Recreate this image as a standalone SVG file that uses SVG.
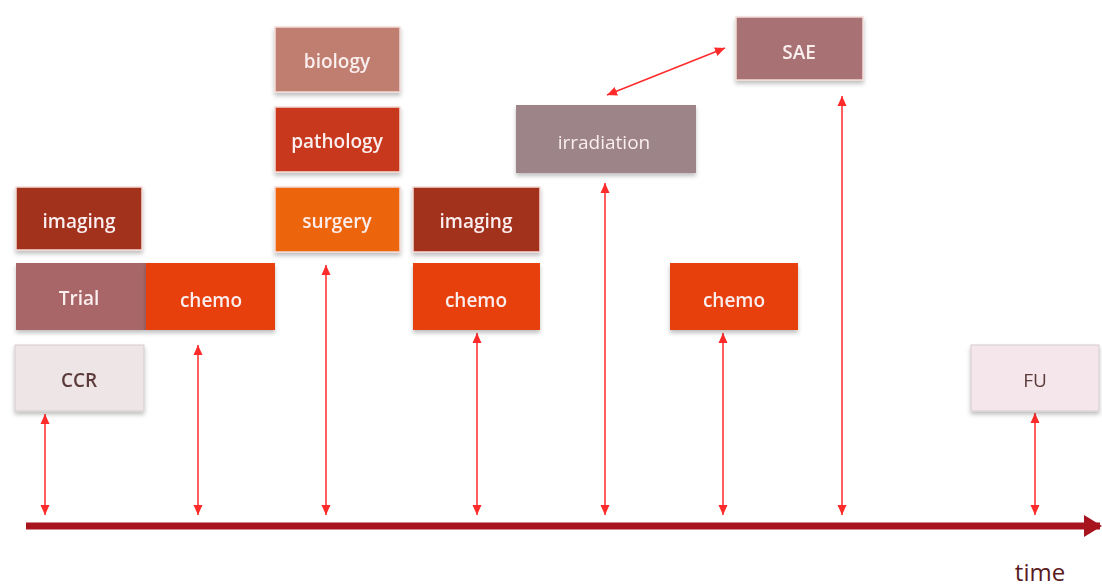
<svg xmlns="http://www.w3.org/2000/svg" width="1102" height="588" viewBox="0 0 1102 588">
<style>
text{font-family:"Open Sans","Liberation Sans",sans-serif;font-size:19px;font-weight:600;text-anchor:middle;dominant-baseline:central;fill:#fbeeee}
.box{stroke:#f3dcd8;stroke-width:1.5}
.dark{fill:#5c3a3a}
.con{stroke:#ff2a2a;stroke-width:1.5;fill:none;marker-start:url(#ah);marker-end:url(#ah)}
</style>
<defs>
<marker id="ah" markerUnits="userSpaceOnUse" markerWidth="10" markerHeight="10" viewBox="0 0 10 10" refX="10" refY="5" orient="auto-start-reverse"><path d="M0,0.5 L10,5 L0,9.5 Z" fill="#ff2a2a"/></marker>
<marker id="big" markerUnits="userSpaceOnUse" markerWidth="18" markerHeight="22" viewBox="0 0 18 22" refX="16" refY="11" orient="auto"><path d="M0,0 L18,11 L0,22 Z" fill="#a8141e"/></marker>
<filter id="sh" x="-10%" y="-10%" width="120%" height="130%"><feDropShadow dx="0" dy="3" stdDeviation="2" flood-color="#000" flood-opacity="0.25"/></filter>
</defs>
<rect width="1102" height="588" fill="#ffffff"/>
<g id="connectors">
<line class="con" x1="45" y1="414" x2="45" y2="515"/>
<line class="con" x1="198" y1="345" x2="198" y2="515"/>
<line class="con" x1="326" y1="265" x2="326" y2="515"/>
<line class="con" x1="477" y1="333" x2="477" y2="515"/>
<line class="con" x1="605" y1="183" x2="605" y2="515"/>
<line class="con" x1="723" y1="333" x2="723" y2="515"/>
<line class="con" x1="842" y1="96" x2="842" y2="515"/>
<line class="con" x1="1035" y1="413" x2="1035" y2="515"/>
<line class="con" x1="607" y1="95" x2="725" y2="48"/>
<line x1="26" y1="526" x2="1100" y2="526" stroke="#a8141e" stroke-width="7" marker-end="url(#big)"/>
</g>
<g id="imaging1" filter="url(#sh)"><rect class="box" x="16" y="187" width="126" height="63" fill="#a3301f"/><text x="79" y="221">imaging</text></g>
<g id="trial" filter="url(#sh)"><rect x="16" y="263" width="130" height="67" fill="#a86668"/><text x="79" y="298">Trial</text></g>
<g id="chemo1" filter="url(#sh)"><rect x="146" y="263" width="129" height="67" fill="#e8400e"/><text x="211" y="300">chemo</text></g>
<g id="ccr" filter="url(#sh)"><rect x="15" y="345" width="129" height="66" fill="#eee5e7" stroke="#d5cbcd"/><text class="dark" x="79" y="380">CCR</text></g>
<g id="biology" filter="url(#sh)"><rect class="box" x="275" y="27" width="125" height="65" fill="#c07e70"/><text x="337" y="61">biology</text></g>
<g id="pathology" filter="url(#sh)"><rect class="box" x="275" y="107" width="125" height="65" fill="#c8391f"/><text x="337" y="141">pathology</text></g>
<g id="surgery" filter="url(#sh)"><rect class="box" x="275" y="187" width="125" height="65" fill="#ec6510"/><text x="337" y="221">surgery</text></g>
<g id="imaging2" filter="url(#sh)"><rect class="box" x="413" y="187" width="127" height="65" fill="#a3301f"/><text x="476" y="221">imaging</text></g>
<g id="chemo2" filter="url(#sh)"><rect x="413" y="263" width="127" height="67" fill="#e8400e"/><text x="476" y="300">chemo</text></g>
<g id="irradiation" filter="url(#sh)"><rect x="516" y="105" width="180" height="68" fill="#9c8488"/><text x="604" y="142" style="font-weight:400">irradiation</text></g>
<g id="sae" filter="url(#sh)"><rect class="box" x="736" y="17" width="127" height="63" fill="#a87274"/><text x="799" y="52">SAE</text></g>
<g id="chemo3" filter="url(#sh)"><rect x="670" y="263" width="128" height="67" fill="#e8400e"/><text x="734" y="300">chemo</text></g>
<g id="fu" filter="url(#sh)"><rect x="971" y="345" width="128" height="66" fill="#f4e6ea" stroke="#d5cbcd"/><text class="dark" x="1035" y="380" style="font-weight:400">FU</text></g>
<text x="1040" y="571" style="font-size:24px;font-weight:400;fill:#5a1a22">time</text>
</svg>
